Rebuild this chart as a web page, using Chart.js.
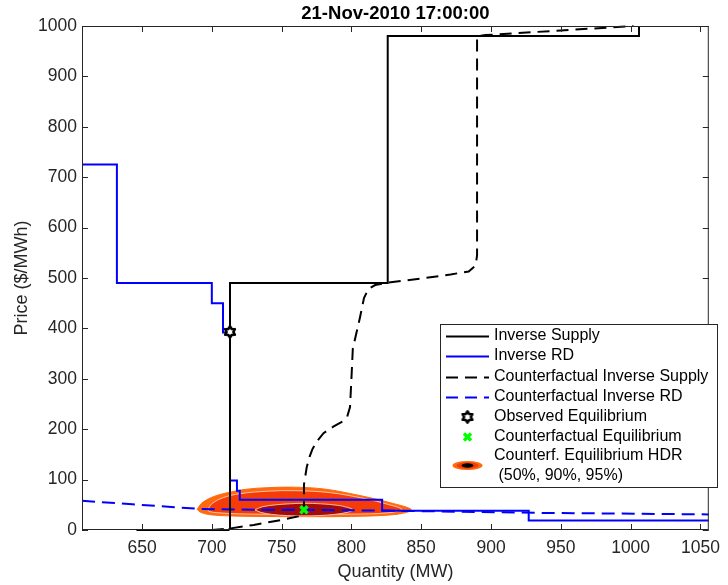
<!DOCTYPE html>
<html><head><meta charset="utf-8">
<script src="https://cdn.jsdelivr.net/npm/chart.js@4.4.0/dist/chart.umd.min.js"></script>
<style>html,body{margin:0;padding:0;background:#fff;}#wrap{position:relative;width:728px;height:585px;}</style>
</head><body><div id="wrap"><canvas id="c" width="728" height="585"></canvas></div>
<script>
// ---------------- data ----------------
const titleText = '21-Nov-2010 17:00:00';
const xLabel = 'Quantity (MW)';
const yLabel = 'Price ($/MWh)';
const xMin = 607, xMax = 1056;
const yMin = 0, yMax = 1000;
const xTicks = [650, 700, 750, 800, 850, 900, 950, 1000, 1050];
const yTicks = [0, 100, 200, 300, 400, 500, 600, 700, 800, 900, 1000];

// Inverse Supply (solid black)
const supplyQ = [646, 712, 713, 713, 826, 826, 1006, 1006];
const supplyP = [0, 0, 3, 490, 490, 980, 980, 1000];
// Inverse RD (solid blue)
const rdQ = [607, 632, 632, 700, 700, 708, 708, 713, 713, 718, 718, 720, 720, 822, 822, 927, 927, 1056];
const rdP = [725, 725, 490, 490, 450, 450, 392, 392, 98, 98, 78, 78, 60, 60, 38, 38, 19, 19];
// Counterfactual Inverse Supply (dashed black)
const cfSupplyQ = [700, 713, 730, 750, 762, 766, 766, 768, 770, 772, 775, 780, 787, 794, 797, 799, 800, 801, 803, 806, 809, 812, 817, 826, 850, 871, 884, 889, 890, 890, 896, 1002];
const cfSupplyP = [0, 3, 10, 20, 27, 30, 90, 125, 145, 160, 175, 192, 205, 216, 225, 244, 300, 360, 384, 420, 460, 478, 486, 491, 499, 507, 513, 525, 545, 980, 982, 1000];
// Counterfactual Inverse RD (dashed blue)
const cfRdQ = [607, 643, 690, 720, 766, 822, 934, 1056];
const cfRdP = [58, 51, 42, 40.5, 40, 38.5, 34, 31];
// Equilibria
const obsEqQ = [713], obsEqP = [393];
const cfEqQ = [766], cfEqP = [40];
// HDR contours (95%, 90%, 50%)
const hdr95Q = [689.5, 693, 702, 713, 725, 740, 758, 780, 805, 828, 843, 832, 800, 760, 720, 700, 692, 689.5];
const hdr95P = [41, 54, 67, 75, 81, 84, 85, 81.5, 69, 54, 40, 31, 27, 26.5, 27.5, 30, 35, 41];
const hdr90Q = [697, 700, 708, 720, 740, 760, 785, 810, 826, 836, 826, 800, 760, 720, 703, 698, 697];
const hdr90P = [40, 52, 64, 72, 77, 78, 74, 62, 51, 41, 34, 31.5, 31, 32, 34.5, 37, 40];
const hdr50Q = [731, 736, 746, 756, 766, 778, 790, 797, 801, 797, 788, 776, 766, 754, 743, 735, 731];
const hdr50P = [40, 46, 50, 52, 53, 52, 49, 45, 40, 35, 31, 28.5, 28, 28.5, 31, 35, 40];

const legendLabels = ['Inverse Supply', 'Inverse RD', 'Counterfactual Inverse Supply', 'Counterfactual Inverse RD',
  'Observed Equilibrium', 'Counterfactual Equilibrium', 'Counterf. Equilibrium HDR', ' (50%, 90%, 95%)'];

// ---------------- styling ----------------
const fam = '"Liberation Sans", Arial, Helvetica, sans-serif';
const axisColor = 'rgb(38,38,38)';
const c95 = '#ff6a10', c90 = '#f53c08', c50 = '#a30a0a';
const outline = 'rgba(255,205,185,0.9)';

function pts(xs, ys) { return xs.map((x, i) => ({ x: x, y: ys[i] })); }

function makeHex() {
  const s = 16, c = document.createElement('canvas');
  c.width = s; c.height = s;
  const g = c.getContext('2d');
  g.beginPath();
  for (let i = 0; i < 12; i++) {
    const r = i % 2 === 0 ? 5.6 : 3.4;
    const a = -Math.PI / 2 + i * Math.PI / 6;
    g.lineTo(s / 2 + r * Math.cos(a), s / 2 + r * Math.sin(a));
  }
  g.closePath();
  g.fillStyle = '#fff'; g.fill();
  g.lineWidth = 2.6; g.lineJoin = 'round'; g.strokeStyle = '#000'; g.stroke();
  return c;
}
const hexImg = makeHex();

const lineBase = { showLine: true, pointRadius: 0, fill: false, tension: 0, clip: 3 };

const datasets = [
  Object.assign({}, lineBase, { label: 'obs', data: pts(obsEqQ, obsEqP), showLine: false, pointStyle: hexImg, pointRadius: 6, order: 0 }),
  Object.assign({}, lineBase, { label: 'cfeq', data: pts(cfEqQ, cfEqP), showLine: false, pointStyle: 'crossRot', pointRadius: 5, pointBorderWidth: 3.5, pointBorderColor: 'rgb(0,255,0)', order: 0 }),
  Object.assign({}, lineBase, { label: 'supply', data: pts(supplyQ, supplyP), borderColor: '#000', borderWidth: 2, order: 1 }),
  Object.assign({}, lineBase, { label: 'rd', data: pts(rdQ, rdP), borderColor: 'rgb(0,0,255)', borderWidth: 2, order: 2 }),
  Object.assign({}, lineBase, { label: 'cfsupply', data: pts(cfSupplyQ, cfSupplyP), borderColor: '#000', borderWidth: 2, borderDash: [12, 7], order: 3 }),
  Object.assign({}, lineBase, { label: 'cfrd', data: pts(cfRdQ, cfRdP), borderColor: 'rgb(0,0,255)', borderWidth: 2, borderDash: [13, 7], order: 4 }),
  Object.assign({}, lineBase, { label: 'hdr50', data: pts(hdr50Q, hdr50P), borderColor: outline, borderWidth: 1, backgroundColor: c50, fill: 'shape', tension: 0.35, order: 10 }),
  Object.assign({}, lineBase, { label: 'hdr90', data: pts(hdr90Q, hdr90P), borderColor: outline, borderWidth: 1, backgroundColor: c90, fill: 'shape', tension: 0.35, order: 11 }),
  Object.assign({}, lineBase, { label: 'hdr95', data: pts(hdr95Q, hdr95P), borderColor: c95, borderWidth: 1, backgroundColor: c95, fill: 'shape', tension: 0.35, order: 12 })
];

const boxPlugin = {
  id: 'boxTicks',
  afterDatasetsDraw(chart) {
    const { ctx, chartArea: a } = chart;
    const x = chart.scales.x, y = chart.scales.y;
    ctx.save();
    ctx.strokeStyle = axisColor; ctx.lineWidth = 1;
    ctx.beginPath();
    xTicks.forEach(v => {
      const px = Math.round(x.getPixelForValue(v)) + 0.5;
      ctx.moveTo(px, a.bottom); ctx.lineTo(px, a.bottom - 6);
      ctx.moveTo(px, a.top); ctx.lineTo(px, a.top + 6);
    });
    yTicks.forEach(v => {
      const py = Math.round(y.getPixelForValue(v)) + 0.5;
      ctx.moveTo(a.left, py); ctx.lineTo(a.left + 6, py);
      ctx.moveTo(a.right, py); ctx.lineTo(a.right - 6, py);
    });
    ctx.stroke();
    ctx.strokeRect(a.left + 0.5, a.top + 0.5, a.right - a.left - 1, a.bottom - a.top - 1);
    ctx.restore();
  },
  afterDraw(chart) {
    const ctx = chart.ctx, a = chart.chartArea;
    ctx.save();
    // title
    ctx.fillStyle = '#000';
    ctx.font = 'bold 18.5px ' + fam;
    ctx.textAlign = 'center'; ctx.textBaseline = 'middle';
    ctx.fillText(titleText, (a.left + a.right) / 2, 14);
    // legend box
    const L = 440, T = 324, R = 718, B = 488;
    ctx.fillStyle = '#fff'; ctx.fillRect(L, T, R - L, B - T);
    ctx.strokeStyle = axisColor; ctx.lineWidth = 1;
    ctx.strokeRect(L + 0.5, T + 0.5, R - L - 1, B - T - 1);
    const rows = [336, 356, 377, 397, 417, 437, 456, 476];
    const x1 = 446, x2 = 489, xm = 467.5, tx = 494;
    ctx.lineWidth = 2;
    [['#000', []], ['rgb(0,0,255)', []], ['#000', [12, 7]], ['rgb(0,0,255)', [12, 7]]].forEach((s, i) => {
      ctx.strokeStyle = s[0]; ctx.setLineDash(s[1]);
      ctx.beginPath(); ctx.moveTo(x1, rows[i] + 0.5); ctx.lineTo(x2, rows[i] + 0.5); ctx.stroke();
    });
    ctx.setLineDash([]);
    ctx.drawImage(hexImg, xm - 8, rows[4] - 8);
    ctx.strokeStyle = 'rgb(0,255,0)'; ctx.lineWidth = 3.5;
    ctx.beginPath();
    ctx.moveTo(xm - 3.5, rows[5] - 3.5); ctx.lineTo(xm + 3.5, rows[5] + 3.5);
    ctx.moveTo(xm + 3.5, rows[5] - 3.5); ctx.lineTo(xm - 3.5, rows[5] + 3.5);
    ctx.stroke();
    // HDR icon
    const iy = 465.5;
    ctx.fillStyle = c95; ctx.beginPath(); ctx.ellipse(xm, iy, 15, 4.5, 0, 0, Math.PI * 2); ctx.fill();
    ctx.fillStyle = c90; ctx.beginPath(); ctx.ellipse(xm, iy, 11, 3.3, 0, 0, Math.PI * 2); ctx.fill();
    ctx.fillStyle = '#000'; ctx.beginPath(); ctx.ellipse(xm, iy, 6, 2.2, 0, 0, Math.PI * 2); ctx.fill();
    // legend texts
    ctx.fillStyle = '#000'; ctx.font = '16px ' + fam;
    ctx.textAlign = 'left'; ctx.textBaseline = 'middle';
    legendLabels.forEach((t, i) => ctx.fillText(t, tx, rows[i]));
    ctx.restore();
  }
};

new Chart(document.getElementById('c'), {
  type: 'scatter',
  data: { datasets: datasets },
  plugins: [boxPlugin],
  options: {
    responsive: false, animation: false, devicePixelRatio: 1,
    layout: { padding: { left: 0, right: 9, top: 26, bottom: 0 } },
    plugins: { legend: { display: false }, tooltip: { enabled: false }, title: { display: false } },
    scales: {
      x: {
        type: 'linear', min: xMin, max: xMax,
        afterBuildTicks: s => { s.ticks = xTicks.map(v => ({ value: v })); },
        afterFit: s => { s.height = 55; },
        grid: { display: false, drawTicks: false }, border: { display: false },
        ticks: { color: axisColor, font: { size: 17.5, family: fam }, padding: 8, maxRotation: 0, autoSkip: false, callback: v => String(v) },
        title: { display: true, text: xLabel, color: axisColor, font: { size: 18, family: fam }, padding: { top: 0, bottom: 2 } }
      },
      y: {
        type: 'linear', min: yMin, max: yMax,
        afterBuildTicks: s => { s.ticks = yTicks.map(v => ({ value: v })); },
        afterFit: s => { s.width = 82; },
        grid: { display: false, drawTicks: false }, border: { display: false },
        ticks: { color: axisColor, font: { size: 17.5, family: fam }, padding: 5, autoSkip: false, callback: v => String(v) },
        title: { display: true, text: yLabel, color: axisColor, font: { size: 18, family: fam }, padding: { top: 11, bottom: 0 } }
      }
    }
  }
});
</script></body></html>
